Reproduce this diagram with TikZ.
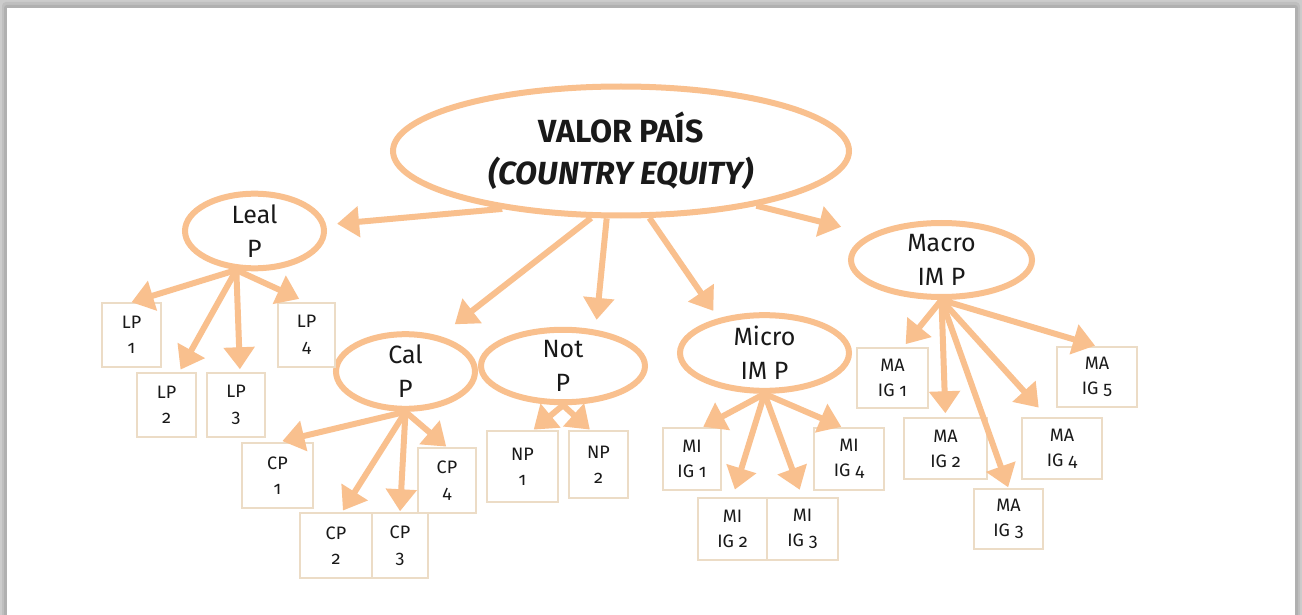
\documentclass[tikz,border=0pt]{standalone}
\usepackage{fontspec}
\setmainfont{Fira Sans}[Numbers=OldStyle]
\usetikzlibrary{arrows.meta,shapes.geometric}
\definecolor{peach}{RGB}{249,192,142}
\definecolor{boxline}{RGB}{236,220,198}
\definecolor{ink}{RGB}{25,25,25}
\begin{document}
\begin{tikzpicture}[x=1pt,y=-1pt,
  oval/.style={ellipse, draw=peach, line width=6pt, align=center, inner sep=0pt,
    text=ink, font=\fontsize{25}{34}\selectfont},
  leaf/.style={rectangle, draw=boxline, line width=1.5pt, fill=white, align=center,
    inner sep=0pt, text=ink, font=\fontsize{18}{25}\selectfont},
  arr/.style={draw=peach, line width=6pt, -{Triangle[length=22pt,width=30pt]}}]
\useasboundingbox (0,0) rectangle (1302,615);
% drop-shadow frame
\fill[gray!40] (0,0) rectangle (1302,615);
\fill[gray!50, rounded corners=4pt] (2,2) rectangle (1300,625);
\fill[gray!62, rounded corners=3pt] (4,5) rectangle (1298,625);
\fill[white] (7,8) rectangle (1295,625);

% ellipses
\node[oval, minimum width=456pt, minimum height=129pt,
  font=\fontsize{32}{42}\selectfont\bfseries] (main) at (621,151)
  {VALOR PAÍS\\\textit{(COUNTRY EQUITY)}};
\node[oval, minimum width=139pt, minimum height=62pt] (leal) at (254.5,231) {Leal\\P};
\node[oval, minimum width=139pt, minimum height=67pt] (cal) at (405.5,371.5) {Cal\\P};
\node[oval, minimum width=164pt, minimum height=72pt] (not) at (563,366) {Not\\P};
\node[oval, minimum width=169pt, minimum height=72pt] (micro) at (764.5,353) {Micro\\IM P};
\node[oval, minimum width=181pt, minimum height=74pt] (macro) at (941.5,260) {Macro\\IM P};

% boxes
\node[leaf, minimum width=59pt, minimum height=64pt] (lp1) at (131.5,335) {LP\\1};
\node[leaf, minimum width=59pt, minimum height=64pt] (lp2) at (166.5,405) {LP\\2};
\node[leaf, minimum width=58pt, minimum height=64pt] (lp3) at (236,405) {LP\\3};
\node[leaf, minimum width=57pt, minimum height=64pt] (lp4) at (306.5,335) {LP\\4};

\node[leaf, minimum width=71pt, minimum height=65pt] (cp1) at (277.5,475.5) {CP\\1};
\node[leaf, minimum width=58pt, minimum height=65pt] (cp4) at (447,480.5) {CP\\4};
\node[leaf, minimum width=72pt, minimum height=65pt] (cp2) at (336,545.5) {CP\\2};
\node[leaf, minimum width=56pt, minimum height=65pt] (cp3) at (400,545.5) {CP\\3};

\node[leaf, minimum width=71pt, minimum height=71pt] (np1) at (522.5,466.5) {NP\\1};
\node[leaf, minimum width=59pt, minimum height=67pt] (np2) at (598.5,464.5) {NP\\2};

\node[leaf, minimum width=58pt, minimum height=62pt] (mi1) at (692,459) {MI\\IG 1};
\node[leaf, minimum width=70pt, minimum height=62pt] (mi4) at (849,459) {MI\\IG 4};
\node[leaf, minimum width=69pt, minimum height=62pt] (mi2) at (732.5,529) {MI\\IG 2};
\node[leaf, minimum width=71pt, minimum height=62pt] (mi3) at (802.5,529) {MI\\IG 3};

\node[leaf, minimum width=71pt, minimum height=60pt] (ma1) at (892.5,378) {MA\\IG 1};
\node[leaf, minimum width=83pt, minimum height=61pt] (ma2) at (945.5,448.5) {MA\\IG 2};
\node[leaf, minimum width=69pt, minimum height=60pt] (ma3) at (1008.5,519) {MA\\IG 3};
\node[leaf, minimum width=80pt, minimum height=61pt] (ma4) at (1062,448.5) {MA\\IG 4};
\node[leaf, minimum width=80pt, minimum height=60pt] (ma5) at (1097,377) {MA\\IG 5};

% first level
\draw[arr, shorten >=11pt] (main.206.8) -- (leal.5);
\draw[arr, shorten >=30pt] (main.338.2) -- (macro.160);
\draw[arr, shorten >=19pt] (main.246.8) -- (cal.46);
\draw[arr, shorten >=10pt] (main.258) -- (not.48.4);
\draw[arr, shorten >=9pt] (main.293) -- (micro.143);

% Leal P
\draw[arr] (leal.245) -- (lp1.north);
\draw[arr, shorten >=3pt] (leal.245) -- (lp2.69);
\draw[arr, shorten >=3pt] (leal.245) -- (lp3.83);
\draw[arr, shorten >=8pt] (leal.245) -- (lp4.north);

% Cal P
\draw[arr, shorten >=5pt] (cal.south) -- (cp1.north);
\draw[arr, shorten >=2pt] (cal.south) -- (cp2.80);
\draw[arr, shorten >=1pt] (cal.south) -- (cp3.north);
\draw[arr, shorten >=1pt] (cal.south) -- (cp4.north);

% Not P
\draw[arr, shorten >=1pt] (not.south) -- (np1.74);
\draw[arr, shorten >=1pt] (not.south) -- (np2.103);

% Micro IM P
\draw[arr, shorten >=1pt] (micro.south) -- (mi1.72);
\draw[arr, shorten >=8pt] (micro.south) -- (mi2.north);
\draw[arr, shorten >=8pt] (micro.south) -- (mi3.north);
\draw[arr, shorten >=1pt] (micro.south) -- (mi4.102);

% Macro IM P
\draw[arr, shorten >=4pt] (macro.south) -- (ma1.71.5);
\draw[arr, shorten >=4pt] (macro.south) -- (ma2.north);
\draw[arr, shorten >=1pt] (macro.south) -- (ma3.north);
\draw[arr, shorten >=13pt] (macro.south) -- (ma4.115);
\draw[arr, shorten >=2pt] (macro.south) -- (ma5.north);
\end{tikzpicture}
\end{document}
